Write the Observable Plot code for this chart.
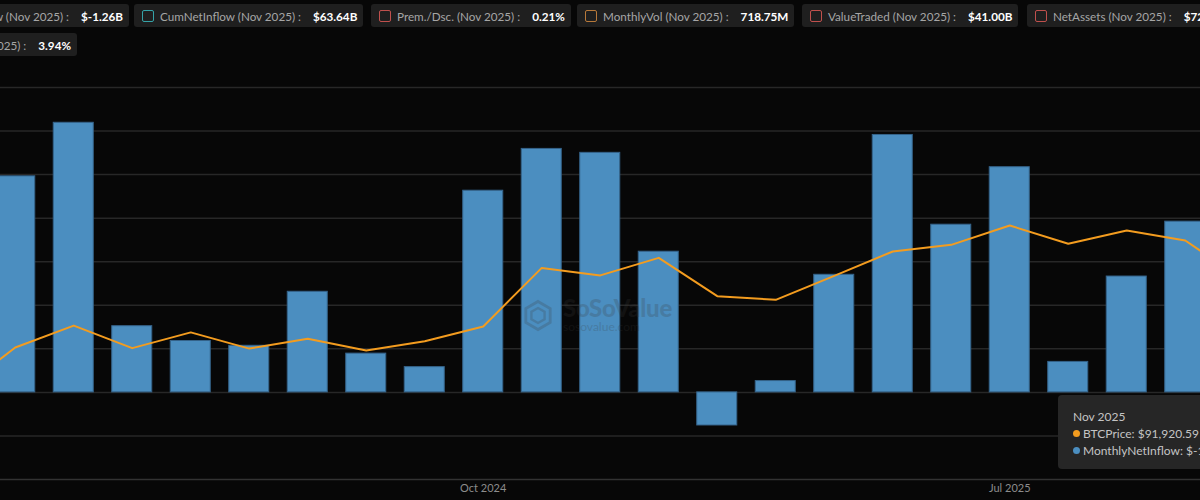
<!DOCTYPE html>
<html><head><meta charset="utf-8">
<script src="https://cdn.jsdelivr.net/npm/d3@7"></script>
<script src="https://cdn.jsdelivr.net/npm/@observablehq/plot@0.6"></script>
<style>
html,body{margin:0;padding:0;background:#070707;}
#page{position:relative;width:1200px;height:500px;overflow:hidden;background:#070707;font-family:Lato,"Noto Sans",sans-serif;}
.layer{position:absolute;top:0;left:-72.75px;width:1345.5px;height:500px;}
.layer svg{position:absolute;top:0;left:0;}
.lg{position:absolute;height:23px;display:flex;align-items:center;background:#1f1f1f;border-radius:3px;padding:0 6px 0 8px;font-size:11.7px;white-space:nowrap;box-sizing:border-box;}
.lg .cb{width:10px;height:10px;border:1.5px solid;border-radius:2px;margin-right:6px;flex:none;}
.lg .lb{color:#a6a6a6;}
.lg .vl{color:#fff;font-weight:700;margin-left:12px;}
#wm{position:absolute;left:523px;top:297px;display:flex;align-items:center;opacity:0.22;color:#3a3a3a;z-index:2;}
#wm .t1{font-size:24px;font-weight:900;line-height:21px;letter-spacing:-0.3px;}
#wm .t2{font-size:12px;line-height:12px;margin-top:3px;}
#tip{position:absolute;left:1058px;top:395px;width:170px;height:74px;background:#262626;border-radius:4px;z-index:5;color:#c4c4c4;font-size:12px;}
#tip .r{position:absolute;left:15px;white-space:nowrap;}
#tip .d{display:inline-block;width:7px;height:7px;border-radius:50%;margin-right:3px;vertical-align:1px;}
</style></head>
<body><div id="page"></div>
<script>
// ---- data ----
const months = ["Jan 2024","Feb 2024","Mar 2024","Apr 2024","May 2024","Jun 2024","Jul 2024","Aug 2024","Sep 2024","Oct 2024","Nov 2024","Dec 2024",
  "Jan 2025","Feb 2025","Mar 2025","Apr 2025","May 2025","Jun 2025","Jul 2025","Aug 2025","Sep 2025","Oct 2025","Nov 2025"];
const netInflowB = [3.2, 4.96, 6.19, 1.52, 1.18, 1.07, 2.31, 0.89, 0.58, 4.63, 5.59, 5.50,
  3.23, -0.76, 0.26, 2.70, 5.91, 3.85, 5.17, 0.70, 2.66, 3.92, -1.26];
const btcPrice = [42580, 62300, 71900, 62000, 68900, 61800, 66100, 61000, 65000, 71500, 97200, 93900,
  101600, 84800, 83200, 93700, 104400, 107300, 115800, 107800, 113600, 109200, 91920.59];
const xTicks = ["Oct 2024","Jul 2025"];
const gridTicks = [-1,0,1,2,3,4,5,6,7];
const legendNames = ["MonthlyNetInflow","CumNetInflow","Prem./Dsc.","MonthlyVol","ValueTraded","NetAssets","Turnover"];
const legendValues = ["$-1.26B","$63.64B","0.21%","718.75M","$41.00B","$72.35B","3.94%"];
const legendColors = ["#4b8ec0","#35a3a8","#c0504d","#b8793a","#c0504d","#c0504d","#c0504d"];
const legendPeriod = "Nov 2025";

const rows = months.map((m,i)=>({month:m, inflow:netInflowB[i], price:btcPrice[i]}));
const W = months.length*58.5;
const page = document.getElementById("page");

const common = {width:W, height:500, marginTop:87, marginBottom:21, marginLeft:0, marginRight:0,
  style:{background:"transparent", color:"#8c8c8c", fontFamily:"Lato, sans-serif", fontSize:"11px", overflow:"visible"}};

const barPlot = Plot.plot({...common,
  x:{type:"band", domain:months, paddingInner:0.316, paddingOuter:0.158, round:false, axis:null, label:null},
  y:{domain:[-2,7], axis:null},
  marks:[
    Plot.ruleY(gridTicks, {stroke:"#272727", strokeWidth:1.5}),
    Plot.ruleY([-2], {stroke:"#323232", strokeWidth:1.5}),
    Plot.barY(rows, {x:"month", y:"inflow", fill:"#4b8ec0", stroke:"#35638a", strokeWidth:1}),
    Plot.axisX({ticks:xTicks, tickSize:0, tickPadding:5, fill:"#8c8c8c", fontSize:11, label:null})
  ]});
const linePlot = Plot.plot({...common,
  x:{type:"point", domain:months, padding:0.5, round:false, axis:null},
  y:{domain:[4386,176316], axis:null},
  marks:[Plot.line(rows, {x:"month", y:"price", stroke:"#f39c1f", strokeWidth:2})]
});

const l1 = document.createElement("div"); l1.className="layer"; l1.style.zIndex=1; l1.appendChild(barPlot); page.appendChild(l1);
const wm = document.createElement("div"); wm.id="wm";
wm.innerHTML = '<svg width="30" height="33" viewBox="0 0 32 34" style="margin-right:10px"><path d="M16 2 L29 9.5 L29 24.5 L16 32 L3 24.5 L3 9.5 Z" fill="none" stroke="#3a3a3a" stroke-width="3"/><path d="M16 9 L23 13 L23 21 L16 25 L9 21 L9 13 Z" fill="none" stroke="#3a3a3a" stroke-width="2.5"/></svg><div><div class="t1">SoSoValue</div><div class="t2">sosovalue.com</div></div>';
page.appendChild(wm);
const l2 = document.createElement("div"); l2.className="layer"; l2.style.zIndex=3; l2.appendChild(linePlot); page.appendChild(l2);

// legend boxes
const pos = [{right:1200-129, top:4},{left:134, top:4},{left:371, top:4},{left:577, top:4},{left:802, top:4},{left:1027, top:4},{right:1200-77, top:33}];
legendNames.forEach((n,i)=>{
  const d = document.createElement("div"); d.className="lg";
  d.style.top = pos[i].top+"px";
  if (pos[i].left!==undefined) d.style.left = pos[i].left+"px"; else d.style.right = pos[i].right+"px";
  d.style.zIndex = 6;
  d.innerHTML = `<span class="cb" style="border-color:${legendColors[i]}"></span><span class="lb">${n} (${legendPeriod}) :</span><span class="vl">${legendValues[i]}</span>`;
  page.appendChild(d);
});

// tooltip
const tip = document.createElement("div"); tip.id="tip";
const last = rows[rows.length-1];
tip.innerHTML = `<div class="r" style="top:14px">${last.month}</div>
<div class="r" style="top:31px"><span class="d" style="background:#f39c1f"></span>BTCPrice: $${d3.format(",.2f")(last.price)}</div>
<div class="r" style="top:48px"><span class="d" style="background:#4b8ec0"></span>MonthlyNetInflow: $${last.inflow.toFixed(2)}B</div>`;
page.appendChild(tip);
</script></body></html>
